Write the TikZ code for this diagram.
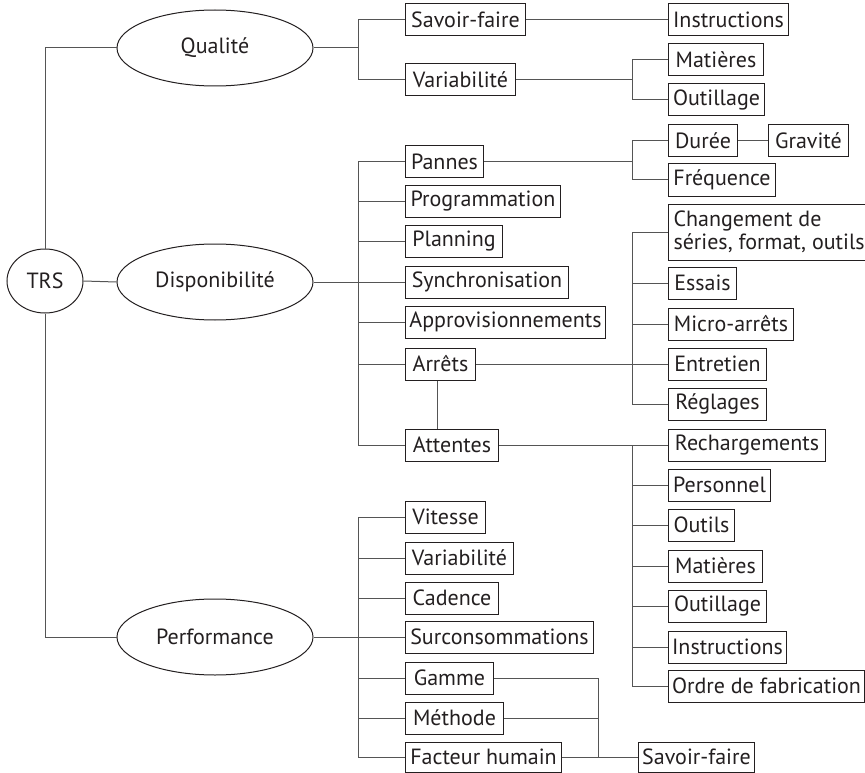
\documentclass[tikz,border=0pt]{standalone}
\usepackage{fontspec}
\setmainfont{PT Sans}
\usetikzlibrary{shapes.geometric}
\definecolor{ink}{HTML}{231F20}
\definecolor{wirec}{HTML}{555555}
\begin{document}
\begin{tikzpicture}[x=1pt,y=-1pt,
  box/.style={draw=ink, line width=1pt, anchor=west, minimum height=32pt, inner xsep=3pt, inner ysep=0pt, text=ink, font=\fontsize{22}{23}\selectfont},
  oval/.style={ellipse, draw=ink, line width=1pt, minimum width=196pt, minimum height=76pt, inner sep=0pt, text=ink, font=\fontsize{22}{23}\selectfont},
  wire/.style={draw=wirec, line width=1pt}]
\useasboundingbox (0,0) rectangle (865,773);
% main ovals
\node[oval] (q) at (215,48) {Qualité};
\node[oval] (disp) at (215,282) {Disponibilité};
\node[oval] (perf) at (215,637) {Performance};
\node[oval, minimum width=76pt, minimum height=64pt] (trs) at (45,281) {TRS};
% Qualite branch
\node[box, minimum width=120pt] (sf) at (405,20) {Savoir-faire};
\node[box, minimum width=110pt] (var1) at (405,80) {Variabilité};
\node[box, minimum width=120pt] (instr1) at (668,20) {Instructions};
\node[box, minimum width=95pt] (mat1) at (668,60) {Matières};
\node[box, minimum width=96pt] (out1) at (668,100) {Outillage};
% Disponibilite branch
\node[box, minimum width=78pt] (pan) at (405,162) {Pannes};
\node[box, minimum width=155pt] (prog) at (405,201) {Programmation};
\node[box, minimum width=97pt] (plan) at (405,241) {Planning};
\node[box, minimum width=163pt] (sync) at (405,282) {Synchronisation};
\node[box, minimum width=200pt] (appro) at (405,322) {Approvisionnements};
\node[box, minimum width=70pt] (arr) at (405,364) {Arrêts};
\node[box, minimum width=93pt] (att) at (405,445) {Attentes};
\node[box, minimum width=69pt] (duree) at (668,141) {Durée};
\node[box, minimum width=80pt] (grav) at (768,141) {Gravité};
\node[box, minimum width=107pt] (freq) at (668,180) {Fréquence};
\node[box, minimum width=196pt, minimum height=56pt, align=left, inner xsep=5pt] (chg) at (668,232) {Changement de\\séries, format, outils};
\node[box, minimum width=68pt] (ess) at (668,283) {Essais};
\node[box, minimum width=125pt] (mic) at (668,324) {Micro-arrêts};
\node[box, minimum width=98pt] (ent) at (668,364) {Entretien};
\node[box, minimum width=98pt] (reg) at (668,404) {Réglages};
\node[box, minimum width=157pt] (rech) at (668,445) {Rechargements};
\node[box, minimum width=102pt] (pers) at (668,485) {Personnel};
\node[box, minimum width=66pt] (outils) at (668,525) {Outils};
\node[box, minimum width=94pt] (mat2) at (668,566) {Matières};
\node[box, minimum width=98pt] (out2) at (668,606) {Outillage};
\node[box, minimum width=118pt] (instr2) at (668,647) {Instructions};
\node[box, minimum width=196pt] (ordre) at (668,686) {Ordre de fabrication};
% Performance branch
\node[box, minimum width=80pt] (vit) at (405,517) {Vitesse};
\node[box, minimum width=108pt] (var2) at (405,558) {Variabilité};
\node[box, minimum width=93pt] (cad) at (405,598) {Cadence};
\node[box, minimum width=188pt] (surc) at (405,637) {Surconsommations};
\node[box, minimum width=88pt] (gam) at (405,678) {Gamme};
\node[box, minimum width=98pt] (meth) at (405,718) {Méthode};
\node[box, minimum width=156pt, minimum height=30pt] (fh) at (405,757) {Facteur humain};
\node[box, minimum width=116pt, minimum height=30pt] (sf2) at (638,757) {Savoir-faire};
% bus coordinates
\coordinate (tb) at (45,0);
\coordinate (lb) at (358,0);
\coordinate (rb) at (632,0);
\coordinate (hb) at (598,0);
% TRS links
\draw[wire] (q.west) -- (q.west -| trs.north) -- (trs.north);
\draw[wire] (trs.south) -- (perf.west -| trs.south) -- (perf.west);
\draw[wire] (trs.east) -- (disp.west);
% Qualite links
\draw[wire] (q.east) -- (q.east -| lb);
\draw[wire] (sf.west) -- (sf.west -| lb) -- (var1.west -| lb) -- (var1.west);
\draw[wire] (sf.east) -- (instr1.west);
\draw[wire] (var1.east) -- (var1.east -| rb);
\draw[wire] (mat1.west) -- (mat1.west -| rb) -- (out1.west -| rb) -- (out1.west);
% Disponibilite links
\draw[wire] (disp.east) -- (sync.west);
\draw[wire] (pan.west) -- (pan.west -| lb) -- (att.west -| lb) -- (att.west);
\foreach \n in {prog,plan,appro,arr} \draw[wire] (\n.west) -- (\n.west -| lb);
\draw[wire] (pan.east) -- (pan.east -| rb);
\draw[wire] (duree.west) -- (duree.west -| rb) -- (freq.west -| rb) -- (freq.west);
\draw[wire] (duree.east) -- (grav.west);
\draw[wire] (arr.east) -- (ent.west);
\draw[wire] (chg.west) -- (chg.west -| rb) -- (reg.west -| rb) -- (reg.west);
\foreach \n in {ess,mic} \draw[wire] (\n.west) -- (\n.west -| rb);
\draw[wire] ([xshift=32pt]arr.south west) -- ([xshift=32pt]arr.south west |- att.north);
\draw[wire] (att.east) -- (rech.west);
\draw[wire] (rech.west -| rb) -- (ordre.west -| rb) -- (ordre.west);
\foreach \n in {pers,outils,mat2,out2,instr2} \draw[wire] (\n.west) -- (\n.west -| rb);
% Performance links
\draw[wire] (perf.east) -- (surc.west);
\draw[wire] (vit.west) -- (vit.west -| lb) -- (fh.west -| lb) -- (fh.west);
\foreach \n in {var2,cad,gam,meth} \draw[wire] (\n.west) -- (\n.west -| lb);
\draw[wire] (gam.east) -- (gam.east -| hb) -- (fh.east -| hb);
\draw[wire] (meth.east) -- (meth.east -| hb);
\draw[wire] (fh.east) -- (sf2.west);
\end{tikzpicture}
\end{document}
